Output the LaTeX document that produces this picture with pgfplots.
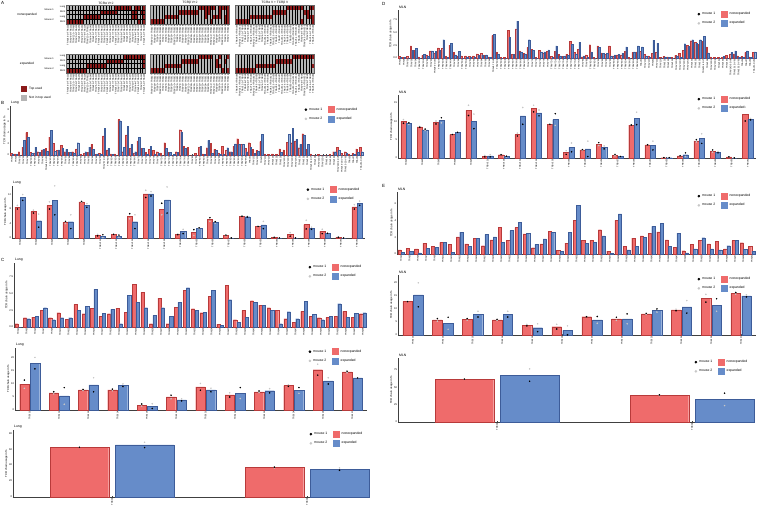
\documentclass[border=0pt]{standalone}
\usepackage{fontspec}
\setmainfont{Liberation Sans}
\usepackage{pgfplots}
\usepackage{pgfplotstable}
\pgfplotsset{compat=1.18}

\definecolor{nred}{HTML}{EF6B6B}
\definecolor{nredd}{HTML}{B83A3A}
\definecolor{eblue}{HTML}{668CC9}
\definecolor{eblued}{HTML}{3D5C99}
\definecolor{topred}{HTML}{8B1A1A}
\definecolor{hgray}{HTML}{B5B5B5}

\newcommand\fs[1]{\fontsize{#1}{#1}\selectfont}

% ---------- tick label lists ----------
\def\travlist{TRAV1,TRAV2,TRAV3-1,TRAV3-3,TRAV3-4,TRAV3D-3,TRAV3N-3,TRAV4-2,TRAV4-3,TRAV4-4-DV10,TRAV4D-3,TRAV4D-4,TRAV4N-3,TRAV4N-4,TRAV5-1,TRAV5-4,TRAV5D-4,TRAV5N-4,TRAV6-1,TRAV6-2,TRAV6-3,TRAV6-4,TRAV6-5,TRAV6-6,TRAV6-7-DV9,TRAV6D-3,TRAV6D-4,TRAV6D-5,TRAV6D-6,TRAV6D-7,TRAV6N-5,TRAV6N-6,TRAV6N-7,TRAV7-1,TRAV7-2,TRAV7-3,TRAV7-4,TRAV7-5,TRAV7-6,TRAV7D-2,TRAV7D-3,TRAV7D-4,TRAV7D-5,TRAV7D-6,TRAV7N-4,TRAV7N-5,TRAV7N-6,TRAV8-1,TRAV8-2,TRAV8D-1,TRAV8D-2,TRAV9-1,TRAV9-2,TRAV9-3,TRAV9-4,TRAV9D-1,TRAV9D-2,TRAV9D-3,TRAV9D-4,TRAV9N-2,TRAV9N-3,TRAV9N-4,TRAV10,TRAV10D,TRAV10N,TRAV11,TRAV11D,TRAV11N,TRAV12-1,TRAV12-2,TRAV12-3,TRAV12D-1,TRAV12D-2,TRAV12D-3,TRAV12N-1,TRAV13-1,TRAV13-2,TRAV13-3,TRAV13-4-DV7,TRAV13-5,TRAV13D-1,TRAV13D-2,TRAV14-1,TRAV14-2,TRAV14-3,TRAV14D-3-DV8,TRAV15-1-DV6-1,TRAV15-2-DV6-2,TRAV16,TRAV17,TRAV19,TRAV21-DV12}
\def\trajlist{TRAJ2,TRAJ5,TRAJ6,TRAJ7,TRAJ9,TRAJ11,TRAJ12,TRAJ13,TRAJ15,TRAJ16,TRAJ17,TRAJ18,TRAJ21,TRAJ22,TRAJ23,TRAJ24,TRAJ26,TRAJ27,TRAJ28,TRAJ30,TRAJ31,TRAJ32,TRAJ33,TRAJ34,TRAJ35,TRAJ37,TRAJ38,TRAJ39,TRAJ40,TRAJ42,TRAJ43,TRAJ44,TRAJ45,TRAJ47,TRAJ48,TRAJ49,TRAJ50,TRAJ52,TRAJ53,TRAJ56,TRAJ57,TRAJ58,TRAJ61}
\def\trbvlist{TRBV1,TRBV2,TRBV3,TRBV4,TRBV5,TRBV12-1,TRBV12-2,TRBV13-1,TRBV13-2,TRBV13-3,TRBV14,TRBV15,TRBV16,TRBV17,TRBV19,TRBV20,TRBV23,TRBV24,TRBV26,TRBV29,TRBV30,TRBV31}
\def\trbjlist{TRBJ1-1,TRBJ1-2,TRBJ1-3,TRBJ1-4,TRBJ1-5,TRBJ1-6,TRBJ2-1,TRBJ2-2,TRBJ2-3,TRBJ2-4,TRBJ2-5,TRBJ2-7}
\def\hA{TRAV14-1+TRAJ22,TRAV6-5+TRAJ12,TRAV12-1+TRAJ9,TRAV3-3+TRAJ31,TRAV16+TRAJ53,TRAV9-4+TRAJ42,TRAV7-4+TRAJ26,TRAV13-2+TRAJ11,TRAV4-3+TRAJ49,TRAV21+TRAJ18,TRAV6-7+TRAJ23,TRAV14-2+TRAJ33,TRAV5-4+TRAJ57,TRAV8-1+TRAJ39,TRAV12-3+TRAJ15,TRAV9-1+TRAJ27,TRAV17+TRAJ45,TRAV13-1+TRAJ34,TRAV7-3+TRAJ40,TRAV6-6+TRAJ50,TRAV19+TRAJ21,TRAV10+TRAJ58,TRAV3-1+TRAJ37,TRAV11+TRAJ56,TRAV4-4+TRAJ16,TRAV14-3+TRAJ30,TRAV2+TRAJ43,TRAV15-1+TRAJ48}
\def\hB{TRBV13-1+TRBJ2-7,TRBV19+TRBJ2-3,TRBV3+TRBJ1-1,TRBV13-2+TRBJ2-5,TRBV1+TRBJ2-1,TRBV5+TRBJ1-2,TRBV29+TRBJ2-7,TRBV16+TRBJ1-5,TRBV13-3+TRBJ2-4,TRBV2+TRBJ1-3,TRBV4+TRBJ2-2,TRBV15+TRBJ1-4,TRBV31+TRBJ2-7,TRBV12-1+TRBJ2-1,TRBV26+TRBJ1-1,TRBV14+TRBJ2-5,TRBV17+TRBJ2-3,TRBV20+TRBJ1-6,TRBV23+TRBJ2-2,TRBV24+TRBJ1-2,TRBV30+TRBJ2-4,TRBV12-2+TRBJ1-3,TRBV13-1+TRBJ2-1,TRBV19+TRBJ1-1,TRBV3+TRBJ2-7,TRBV13-2+TRBJ1-5,TRBV5+TRBJ2-3,TRBV1+TRBJ1-4}
\def\hC{TRAV6-5+TRBV19,TRAV14-1+TRBV13-2,TRAV12-1+TRBV3,TRAV16+TRBV5,TRAV9-4+TRBV1,TRAV7-4+TRBV29,TRAV13-2+TRBV13-3,TRAV4-3+TRBV16,TRAV21+TRBV2,TRAV6-7+TRBV4,TRAV14-2+TRBV15,TRAV5-4+TRBV31,TRAV8-1+TRBV12-1,TRAV12-3+TRBV26,TRAV9-1+TRBV14,TRAV17+TRBV17,TRAV13-1+TRBV20,TRAV7-3+TRBV23,TRAV6-6+TRBV24,TRAV19+TRBV30,TRAV10+TRBV12-2,TRAV3-1+TRBV13-1,TRAV11+TRBV19,TRAV4-4+TRBV3,TRAV14-3+TRBV13-2,TRAV2+TRBV5,TRAV15-1+TRBV1,TRAV6-4+TRBV29}

% ---------- data ----------
\pgfplotstableread[row sep=\\]{n e\\
0.3 0.2\\0.2 0.1\\0.6 0.0\\1.4 2.6\\4.0 3.1\\0.5 0.3\\0.4 1.4\\0.6 0.5\\0.9 1.0\\1.2 0.7\\
3.2 4.4\\2.1 0.7\\0.8 0.9\\1.7 1.2\\0.6 1.0\\0.5 0.5\\0.6 0.4\\1.1 2.2\\0.1 0.0\\0.3 0.6\\
0.5 1.4\\1.9 1.0\\0.1 0.2\\0.3 0.2\\3.4 4.8\\0.9 1.2\\0.2 0.1\\0.2 0.0\\6.3 6.1\\0.6 1.4\\
3.6 5.1\\1.2 1.9\\0.4 0.6\\2.5 3.1\\1.2 1.2\\0.5 0.1\\1.0 1.5\\0.8 0.1\\0.6 0.3\\0.4 0.0\\
2.2 1.2\\0.5 0.5\\0.0 0.1\\0.6 0.5\\4.5 4.1\\1.5 1.2\\1.4 0.0\\0.0 0.0\\0.3 0.0\\1.4 1.6\\
0.2 0.1\\1.3 2.6\\2.1 0.3\\1.0 0.8\\0.4 0.1\\1.6 0.1\\0.8 1.3\\0.6 0.6\\1.6 2.0\\2.9 1.9\\
1.9 1.9\\1.2 0.6\\2.2 1.4\\1.0 0.3\\0.8 0.7\\2.4 3.7\\0.2 0.0\\0.1 0.0\\0.2 0.0\\0.1 0.0\\
1.1 0.5\\0.9 0.0\\2.3 3.7\\2.2 4.7\\2.5 2.8\\1.3 1.9\\3.8 3.6\\1.0 1.9\\0.2 0.0\\0.0 0.0\\
0.1 0.0\\0.0 0.0\\0.0 0.0\\0.1 0.0\\0.6 0.6\\1.4 0.8\\0.3 0.0\\0.6 0.4\\0.2 0.0\\0.3 0.1\\
1.1 0.5\\1.4 0.6\\}\btop

\pgfplotstableread[row sep=\\]{n n1 n2 e e1 e2\\
8.5 8.0 9.0 11.2 10.4 12.0\\7.3 6.9 7.7 4.8 3.0 6.6\\9.0 8.0 10.0 10.4 6.4 14.4\\
4.3 4.6 4.0 4.5 2.6 6.4\\10.0 10.1 9.9 9.0 8.5 9.5\\0.8 0.6 1.0 0.5 0.9 0.1\\
1.0 1.0 1.0 0.5 0.8 0.2\\6.0 6.7 5.3 4.5 2.6 6.4\\12.2 11.2 13.2 12.2 11.6 12.8\\
8.0 9.6 6.4 10.5 6.9 14.1\\1.0 0.9 1.1 1.8 1.2 2.4\\1.5 2.3 0.7 2.7 2.8 2.6\\
5.1 5.6 4.6 4.3 4.5 4.1\\0.7 0.8 0.6 0.0 0.0 0.0\\6.0 6.0 6.0 5.9 5.8 6.0\\
3.2 3.2 3.2 3.6 2.6 4.6\\0.2 0.2 0.2 0.0 0.0 0.0\\1.0 0.5 1.5 0.0 0.0 0.0\\
3.7 2.5 4.9 2.7 2.4 3.0\\1.8 1.2 2.4 1.3 1.3 1.3\\0.2 0.2 0.2 0.0 0.0 0.0\\
8.6 8.0 9.2 9.6 9.0 10.2\\}\bbot

\pgfplotstableread[row sep=\\]{n e\\
0.5 0.0\\1.4 1.25\\1.5 1.65\\2.5 2.9\\1.4 1.1\\2.15 1.4\\1.15 1.4\\3.4 2.5\\2.0 3.1\\2.85 5.65\\
1.65 2.1\\2.0 2.65\\2.8 0.5\\2.25 4.75\\6.4 3.75\\5.2 2.9\\0.5 1.75\\4.35 2.9\\0.5 1.6\\3.0 3.7\\
5.5 5.9\\2.75 2.5\\2.15 2.25\\4.6 5.5\\0.4 0.25\\6.3 4.1\\1.1 0.7\\2.5 1.45\\3.95 3.75\\3.3 3.25\\
2.9 2.5\\2.5 0.5\\1.25 2.3\\0.75 1.25\\2.35 3.85\\1.6 1.9\\1.4 1.1\\1.45 1.65\\1.6 3.5\\2.35 1.5\\
1.5 2.1\\2.0 2.15\\}\ctop

\pgfplotstableread[row sep=\\]{n n1 n2 e e1 e2\\
9.9 11.5 8.3 18.0 15.8 20.2\\6.6 7.0 6.2 5.4 8.6 2.2\\7.7 7.9 7.5 9.7 7.0 12.4\\
7.7 8.0 7.4 9.5 9.0 10.0\\1.9 2.3 1.5 1.5 0.6 2.4\\5.0 5.7 4.3 3.9 3.5 4.3\\
8.9 7.6 10.2 7.7 7.0 8.4\\5.8 5.0 6.6 6.5 8.6 4.4\\7.0 7.3 6.7 7.4 6.6 8.2\\
9.4 9.1 9.7 7.5 8.6 6.4\\15.5 13.4 17.6 11.2 10.0 12.4\\14.6 14.9 14.3 12.3 12.3 12.3\\}\cmid

\pgfplotstableread[row sep=\\]{n n1 n2 e e1 e2\\
62.3 62.3 62.3 65.3 62.0 68.6\\37.0 37.5 36.5 35.0 33.5 36.5\\}\cbot

\pgfplotstableread[row sep=\\]{n e\\
0.3 0.1\\0.1 0.1\\0.3 0.0\\2.4 1.5\\1.5 1.9\\0.2 0.0\\0.5 0.7\\0.6 0.3\\1.4 1.4\\0.9 1.3\\
2.0 1.6\\1.9 3.6\\0.3 0.1\\2.5 2.9\\1.1 0.6\\0.4 1.3\\0.4 0.0\\0.4 0.2\\0.3 0.2\\0.4 0.2\\
0.8 0.5\\0.9 0.6\\0.5 0.6\\0.2 0.1\\4.4 4.6\\1.2 0.7\\0.1 0.0\\0.1 0.0\\5.4 4.0\\0.7 0.7\\
5.7 7.2\\1.4 1.2\\0.9 0.8\\2.1 3.6\\1.7 1.5\\0.1 0.0\\1.5 1.2\\1.0 1.2\\1.3 1.6\\0.3 0.1\\
1.3 2.4\\0.7 0.4\\0.3 0.3\\0.7 0.5\\3.3 2.7\\1.1 0.8\\1.7 3.1\\0.2 0.4\\0.6 0.1\\2.6 1.2\\
0.1 0.0\\2.4 2.1\\1.0 0.9\\0.7 0.9\\2.4 0.4\\0.4 0.6\\0.6 0.7\\0.6 0.9\\1.3 2.2\\0.1 0.0\\
1.1 1.2\\1.2 2.4\\1.3 2.2\\0.7 0.4\\0.4 0.1\\0.9 3.5\\1.1 2.9\\0.1 0.0\\0.3 0.2\\0.2 0.1\\
0.1 0.0\\0.5 0.4\\0.9 0.1\\1.5 2.8\\2.5 2.3\\3.4 3.6\\3.1 2.9\\2.7 3.6\\3.3 4.3\\2.2 1.0\\
0.2 0.0\\0.1 0.0\\0.1 0.0\\0.1 0.3\\0.5 0.0\\0.7 1.1\\0.8 1.4\\0.4 0.1\\0.3 0.1\\1.1 1.4\\
0.2 0.1\\1.1 1.2\\}\dtop

\pgfplotstableread[row sep=\\]{n n1 n2 e e1 e2\\
10.0 9.5 10.5 9.4 9.6 9.2\\8.5 8.4 8.6 7.7 7.9 7.5\\9.7 9.3 10.1 10.3 11.0 9.6\\
6.4 6.4 6.4 7.0 7.0 7.0\\13.0 11.6 14.4 10.0 8.0 12.0\\0.5 0.3 0.7 0.6 0.3 0.9\\
0.9 0.9 0.9 0.4 0.5 0.3\\6.4 6.0 6.8 11.5 9.2 13.8\\13.5 12.6 14.4 12.3 11.5 13.1\\
9.2 9.2 9.2 10.5 12.1 8.9\\1.5 1.0 2.0 2.9 1.7 4.1\\2.2 2.3 2.1 2.5 0.4 4.6\\
3.8 4.2 3.4 2.9 2.5 3.3\\0.8 1.0 0.6 0.4 0.4 0.4\\9.0 9.0 9.0 10.8 9.1 12.5\\
3.6 3.6 3.6 3.4 2.2 4.6\\0.1 0.1 0.1 0.1 0.1 0.1\\0.6 0.6 0.6 0.9 1.4 0.4\\
4.7 5.0 4.4 5.3 4.0 6.6\\1.9 2.2 1.6 1.6 1.4 1.8\\0.3 0.3 0.3 0.0 0.0 0.0\\
12.0 10.1 13.9 10.6 10.4 10.8\\}\dmid

\pgfplotstableread[row sep=\\]{n e\\
0.5 0.2\\0.7 0.3\\0.6 0.15\\1.3 0.7\\0.95 0.8\\1.4 1.4\\1.15 0.2\\2.05 2.6\\1.2 0.95\\1.9 1.9\\
1.0 2.35\\1.7 2.05\\3.2 1.4\\1.65 2.8\\3.15 3.8\\2.4 2.5\\0.75 1.15\\1.2 1.8\\2.7 2.6\\0.45 0.35\\
1.3 2.6\\4.0 5.8\\1.65 1.3\\1.65 1.4\\2.9 2.15\\0.35 0.1\\4.0 4.8\\0.9 0.5\\1.9 0.9\\2.15 2.0\\
2.45 3.3\\2.65 3.7\\1.7 0.9\\0.8 2.5\\0.4 0.15\\1.15 0.6\\1.6 1.95\\1.2 0.6\\1.55 0.5\\0.6 1.0\\
1.6 1.6\\1.35 0.55\\0.9 0.35\\}\etop

\pgfplotstableread[row sep=\\]{n n1 n2 e e1 e2\\
12.8 12.8 12.8 15.4 10.8 20.0\\5.8 6.3 5.3 4.5 6.8 2.2\\6.0 6.3 5.7 8.0 6.9 9.1\\
5.8 6.0 5.6 8.0 6.9 9.1\\3.8 3.5 4.1 2.8 1.3 4.3\\3.2 2.3 4.1 1.8 0.1 3.5\\
7.0 7.0 7.0 5.8 7.1 4.5\\6.2 6.8 5.6 6.2 8.1 4.3\\8.1 8.3 7.9 9.4 10.0 8.8\\
9.6 9.3 9.9 10.8 8.4 13.2\\14.1 12.6 15.6 11.5 13.9 9.1\\16.0 16.3 15.7 15.0 14.6 15.4\\}\emid

\pgfplotstableread[row sep=\\]{n n1 n2 e e1 e2\\
61.5 61.7 61.3 67.5 58.6 76.4\\38.5 39.0 38.0 32.5 41.4 23.6\\}\ebot

% ---------- styles and helpers ----------
\pgfplotsset{
  tcrbar/.style={
    scale only axis, anchor=north west, clip=false,
    axis x line*=bottom, axis y line*=left,
    axis line style={black!75, line width=0.3pt},
    every tick/.style={black!75, line width=0.25pt},
    major tick length=1pt,
    ymin=0, enlargelimits=false, xtick=data,
    xticklabel style={rotate=90, anchor=east, font=\fs{2.2}, inner sep=0.6pt},
    yticklabel style={font=\fs{2.6}, inner sep=0.8pt},
    ylabel={TCR chain usage in \%},
    ylabel style={font=\fs{2.8}, inner sep=0.5pt},
    title style={font=\fs{3.4}, at={(0,1)}, anchor=south west, yshift=-5.5pt, inner sep=1pt},
    /pgf/number format/assume math mode=true,
    legend columns=2, legend cell align=left,
    legend style={draw=none, fill=none, at={(0.99,1)}, anchor=north east,
      font=\fs{3.4}, inner sep=0pt, row sep=1.2pt,
      /tikz/every even column/.append style={column sep=4pt}},
  },
  hmap/.style={
    scale only axis, anchor=north west, width=79pt, height=19pt,
    xmin=0, xmax=28, ymin=0, ymax=4, y dir=reverse, axis on top,
    axis background/.style={fill=hgray},
    xtick={0.5,1.5,...,27.5}, ytick=\empty,
    minor xtick={0,...,28}, minor ytick={0,...,4},
    xminorgrids=true, yminorgrids=true,
    minor grid style={black, line width=0.5pt},
    major tick length=0pt, minor tick length=0pt,
    axis line style={black!60, line width=0.3pt},
    xticklabel style={rotate=90, anchor=east, font=\fs{2.3}, inner sep=0.6pt},
    yticklabel style={font=\fs{2.4}, inner sep=1pt},
    title style={font=\fs{3.2}, yshift=-6pt, inner sep=0.5pt},
  },
}

\newcommand\tcrlegend{%
  \addlegendimage{legend image code/.code={\fill[black] (2.5pt,0pt) circle (1.1pt);}}\addlegendentry{mouse 1}
  \addlegendimage{legend image code/.code={\fill[nred] (0pt,-3pt) rectangle (6pt,3pt);}}\addlegendentry{nonexpanded}
  \addlegendimage{legend image code/.code={\fill[black!22] (2.5pt,0pt) circle (1.1pt);}}\addlegendentry{mouse 2}
  \addlegendimage{legend image code/.code={\fill[eblue] (0pt,-3pt) rectangle (6pt,3pt);}}\addlegendentry{expanded}}

\newcommand\bars[3]{%
  \addplot[ybar, bar width=#2, bar shift=-#3, fill=nred, draw=nredd, line width=0.25pt, forget plot]
    table[x expr=\coordindex, y=n] {#1};
  \addplot[ybar, bar width=#2, bar shift=#3, fill=eblue, draw=eblued, line width=0.25pt, forget plot]
    table[x expr=\coordindex, y=e] {#1};}

\newcommand\mice[2]{%
  \addplot[only marks, mark=*, mark size=0.55pt, black!22, forget plot] table[x expr=\coordindex-#2, y=n2] {#1};
  \addplot[only marks, mark=*, mark size=0.55pt, black!22, forget plot] table[x expr=\coordindex+#2, y=e2] {#1};
  \addplot[only marks, mark=*, mark size=0.55pt, black, forget plot] table[x expr=\coordindex-#2, y=n1] {#1};
  \addplot[only marks, mark=*, mark size=0.55pt, black, forget plot] table[x expr=\coordindex+#2, y=e1] {#1};}

\newcommand\blk[4]{\addplot[fill=topred, draw=none, forget plot] coordinates {(#1,#3) (#2,#3) (#2,#4) (#1,#4)} --cycle;}

\begin{document}
\begin{tikzpicture}
\useasboundingbox (0pt,0pt) rectangle (757pt,-507pt);

% ================= A: heatmaps =================
\node[anchor=north west, font=\fs{4.5}, inner sep=0pt] at (1pt,-1pt) {A};
\node[font=\fs{3.2}] at (27pt,-14.5pt) {nonexpanded};
\node[font=\fs{3.2}] at (27pt,-63.5pt) {expanded};
\foreach \yy/\tt in {9.8/Mouse 1, 19.3/Mouse 2, 58.8/Mouse 1, 68.3/Mouse 2}
  \node[anchor=east, font=\fs{2.4}, inner sep=0pt] at (54pt,-\yy pt) {\tt};
\fill[topred] (21pt,-86pt) rectangle (27pt,-91.5pt);
\node[anchor=west, font=\fs{3.2}, inner sep=0pt] at (29pt,-88.7pt) {Top used};
\fill[hgray] (21pt,-95pt) rectangle (27pt,-100.5pt);
\node[anchor=west, font=\fs{3.2}, inner sep=0pt] at (29pt,-97.7pt) {Not in top used};

% nonexpanded
\begin{axis}[hmap, at={(66.5pt,-5pt)}, title={TCRα V+J}, xticklabels/.expand once=\hA,
  ytick={0.5,1.5,2.5,3.5}, yticklabels={Lung,MLN,Lung,MLN}]
\blk{17}{23}{0}{1}\blk{24}{26}{0}{1}\blk{27}{28}{0}{1}
\blk{12}{18}{1}{2}\blk{23}{25}{1}{2}\blk{26}{28}{1}{2}
\blk{6}{12}{2}{3}\blk{23}{25}{2}{3}\blk{27}{28}{2}{3}
\blk{0}{6}{3}{4}\blk{25}{26}{3}{4}\blk{27}{28}{3}{4}
\end{axis}
\begin{axis}[hmap, at={(150.5pt,-5pt)}, title={TCRβ V+J}, xticklabels/.expand once=\hB]
\blk{17}{23}{0}{1}\blk{24}{28}{0}{1}
\blk{10}{17}{1}{2}\blk{19}{21}{1}{2}\blk{24}{25}{1}{2}\blk{27}{28}{1}{2}
\blk{5}{10}{2}{3}\blk{19}{20}{2}{3}\blk{22}{25}{2}{3}\blk{26}{28}{2}{3}
\blk{0}{5}{3}{4}\blk{21}{22}{3}{4}\blk{26}{28}{3}{4}
\end{axis}
\begin{axis}[hmap, at={(235.5pt,-5pt)}, title={TCRα V + TCRβ V}, xticklabels/.expand once=\hC]
\blk{18}{24}{0}{1}\blk{26}{28}{0}{1}
\blk{13}{18}{1}{2}\blk{24}{26}{1}{2}
\blk{5}{13}{2}{3}\blk{25}{28}{2}{3}
\blk{0}{5}{3}{4}\blk{23}{24}{3}{4}\blk{27}{28}{3}{4}
\end{axis}
% expanded
\begin{axis}[hmap, at={(66.5pt,-54pt)}, xticklabels/.expand once=\hA,
  ytick={0.5,1.5,2.5,3.5}, yticklabels={Lung,MLN,Lung,MLN}]
\blk{20}{28}{0}{1}
\blk{14}{20}{1}{2}\blk{27}{28}{1}{2}
\blk{7}{14}{2}{3}\blk{27}{28}{2}{3}
\blk{0}{7}{3}{4}
\end{axis}
\begin{axis}[hmap, at={(150.5pt,-54pt)}, xticklabels/.expand once=\hB]
\blk{17}{22}{0}{1}\blk{24}{25}{0}{1}\blk{27}{28}{0}{1}
\blk{11}{17}{1}{2}\blk{23}{24}{1}{2}\blk{26}{27}{1}{2}
\blk{5}{11}{2}{3}\blk{23}{25}{2}{3}
\blk{0}{5}{3}{4}\blk{25}{26}{3}{4}\blk{27}{28}{3}{4}
\end{axis}
\begin{axis}[hmap, at={(235.5pt,-54pt)}, xticklabels/.expand once=\hC]
\blk{20}{28}{0}{1}
\blk{14}{20}{1}{2}
\blk{7}{14}{2}{3}\blk{27}{28}{2}{3}
\blk{0}{7}{3}{4}
\end{axis}

% ================= B: Lung, V genes =================
\node[anchor=north west, font=\fs{4.5}, inner sep=0pt] at (1pt,-101pt) {B};
\begin{axis}[tcrbar, at={(10pt,-105.5pt)}, width=353pt, height=49.5pt,
  xmin=-0.5, xmax=91.5, ymax=8.8, ytick={0,2,4,6,8}, title=Lung,
  xticklabels/.expand once=\travlist]
\tcrlegend
\bars{\btop}{0.4}{0.21}
\end{axis}

\begin{axis}[tcrbar, at={(12pt,-185.5pt)}, width=353pt, height=52.5pt,
  xmin=-0.5, xmax=21.5, ymax=14.5, ytick={0,4,8,12}, title=Lung,
  xticklabels/.expand once=\trbvlist]
\tcrlegend
\bars{\bbot}{0.32}{0.165}
\mice{\bbot}{0.165}
\end{axis}

% ================= C: Lung, J genes =================
\node[anchor=north west, font=\fs{4.5}, inner sep=0pt] at (1pt,-258pt) {C};
\begin{axis}[tcrbar, at={(14pt,-263pt)}, width=353pt, height=64pt,
  xmin=-0.5, xmax=41.5, ymax=9.6, ytick={0,2.5,5,7.5}, yticklabels={0.0,2.5,5.0,7.5},
  title=Lung, xticklabels/.expand once=\trajlist]
\tcrlegend
\bars{\ctop}{0.38}{0.2}
\end{axis}

\begin{axis}[tcrbar, at={(15pt,-347.5pt)}, width=352pt, height=62.5pt,
  xmin=-0.5, xmax=11.5, ymax=24, ytick={0,5,10,15,20}, title=Lung,
  xticklabels/.expand once=\trbjlist]
\tcrlegend
\bars{\cmid}{0.32}{0.18}
\mice{\cmid}{0.18}
\end{axis}

\begin{axis}[tcrbar, at={(13pt,-430pt)}, width=355pt, height=67pt,
  xmin=-0.508, xmax=1.313, ymax=84, ytick={0,20,40,60,80}, title=Lung,
  xticklabels={TRBD1,TRBD2}]
\tcrlegend
\bars{\cbot}{0.3}{0.167}
\mice{\cbot}{0.167}
\end{axis}

% ================= D: MLN, V genes =================
\node[anchor=north west, font=\fs{4.5}, inner sep=0pt] at (382pt,-2pt) {D};
\begin{axis}[tcrbar, at={(398pt,-10pt)}, width=358pt, height=48pt,
  xmin=-0.5, xmax=91.5, ymax=9.4, ytick={0,2.5,5,7.5}, yticklabels={0.0,2.5,5.0,7.5},
  title=MLN, xticklabels/.expand once=\travlist]
\tcrlegend
\bars{\dtop}{0.4}{0.21}
\end{axis}

\begin{axis}[tcrbar, at={(398pt,-95pt)}, width=358pt, height=63pt,
  xmin=-0.5, xmax=21.5, ymax=17.2, ytick={0,5,10,15}, title=MLN,
  xticklabels/.expand once=\trbvlist]
\tcrlegend
\bars{\dmid}{0.32}{0.165}
\mice{\dmid}{0.165}
\end{axis}

% ================= E: MLN, J genes =================
\node[anchor=north west, font=\fs{4.5}, inner sep=0pt] at (382pt,-184pt) {E};
\begin{axis}[tcrbar, at={(397pt,-192pt)}, width=359pt, height=62pt,
  xmin=-0.5, xmax=42.5, ymax=7.4, ytick={0,2,4,6}, title=MLN,
  xticklabels/.expand once=\trajlist]
\tcrlegend
\bars{\etop}{0.38}{0.2}
\end{axis}

\begin{axis}[tcrbar, at={(398pt,-275pt)}, width=358pt, height=60pt,
  xmin=-0.5, xmax=11.5, ymax=23, ytick={0,5,10,15,20}, title=MLN,
  xticklabels/.expand once=\trbjlist]
\tcrlegend
\bars{\emid}{0.32}{0.18}
\mice{\emid}{0.18}
\end{axis}

\begin{axis}[tcrbar, at={(398pt,-358pt)}, width=355pt, height=64pt,
  xmin=-0.508, xmax=1.313, ymax=92, ytick={0,25,50,75}, title=MLN,
  xticklabels={TRBD1,TRBD2}]
\tcrlegend
\bars{\ebot}{0.3}{0.167}
\mice{\ebot}{0.167}
\end{axis}
\end{tikzpicture}
\end{document}
